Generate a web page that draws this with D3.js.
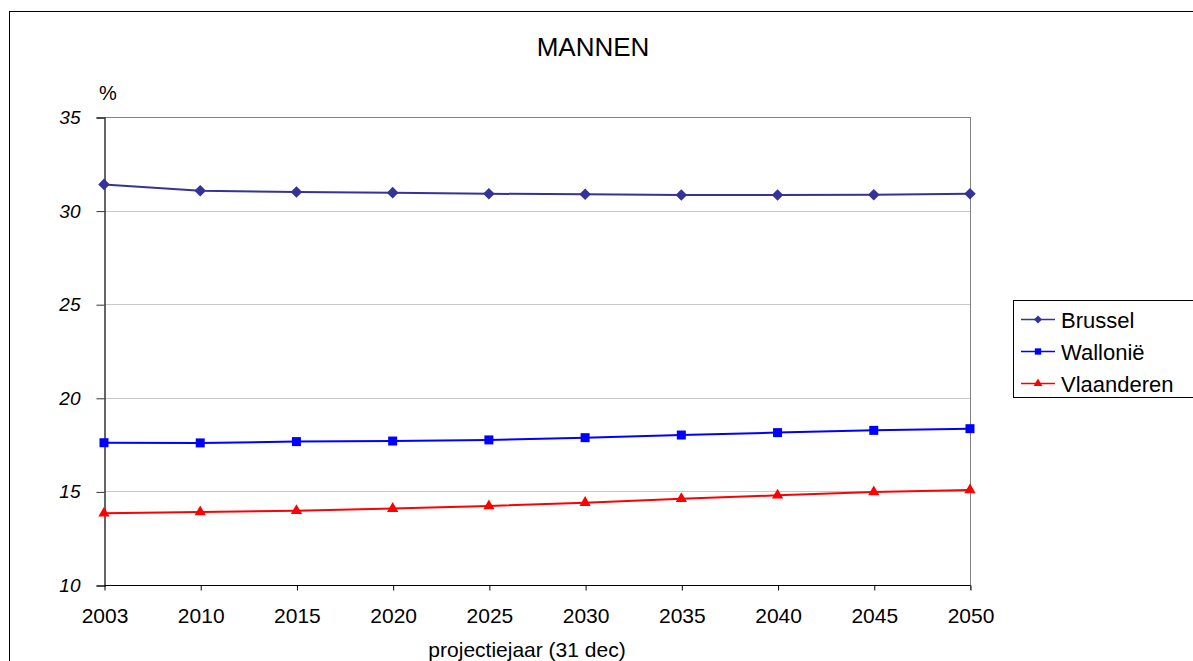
<!DOCTYPE html>
<html>
<head>
<meta charset="utf-8">
<script src="https://cdn.jsdelivr.net/npm/d3@7"></script>
<style>
  html, body { margin: 0; padding: 0; background: #fff; }
  svg { display: block; font-family: "Liberation Sans", Arial, sans-serif; }
</style>
</head>
<body>
<svg id="chart" width="1193" height="661"></svg>
<script>
// Projection years (category axis)
const years = ["2003", "2010", "2015", "2020", "2025", "2030", "2035", "2040", "2045", "2050"];

// Share (%) per region
const brussel    = [31.40, 31.06, 30.99, 30.96, 30.90, 30.87, 30.83, 30.83, 30.85, 30.90];
const wallonie   = [17.60, 17.59, 17.66, 17.69, 17.75, 17.87, 18.01, 18.14, 18.26, 18.35];
const vlaanderen = [13.83, 13.90, 13.97, 14.08, 14.22, 14.40, 14.61, 14.79, 14.97, 15.07];

const yTicks = [10, 15, 20, 25, 30, 35];

const seriesNames = ["Brussel", "Wallonië", "Vlaanderen"];
const seriesValues = [brussel, wallonie, vlaanderen];
const seriesColors = ["#333399", "#0000ff", "#ff0000"];
const diamond = d3.symbolDiamond2 || d3.symbolDiamond;
const seriesSymbols = [diamond, d3.symbolSquare, d3.symbolTriangle];
const symbolSizes = [85, 81, 55];
const legendSymbolSizes = [40, 40, 34];

const FONT = "'Liberation Sans', Arial, sans-serif";
const svg = d3.select("#chart");

// outer chart frame
svg.append("rect")
  .attr("x", 9.5).attr("y", 11.5)
  .attr("width", 1200).attr("height", 700)
  .attr("fill", "#fff").attr("stroke", "#000").attr("stroke-width", 1);

const plot = { left: 104, right: 970, top: 117, bottom: 585 };

const x = d3.scalePoint().domain(years).range([plot.left, plot.right]);
const y = d3.scaleLinear().domain([10, 35]).range([plot.bottom, plot.top]);

// gridlines
svg.append("g")
  .selectAll("line")
  .data(yTicks.filter(t => t > 10))
  .join("line")
  .attr("x1", plot.left).attr("x2", plot.right)
  .attr("y1", d => Math.round(y(d)) + 0.5).attr("y2", d => Math.round(y(d)) + 0.5)
  .attr("stroke", d => d === 35 ? "#808080" : "#c8c8c8")
  .attr("stroke-width", 1);

// right border of plot area
svg.append("line")
  .attr("x1", plot.right + 0.5).attr("x2", plot.right + 0.5)
  .attr("y1", plot.top).attr("y2", plot.bottom + 5)
  .attr("stroke", "#808080");

// y axis
const yAxis = d3.axisLeft(y).tickValues(yTicks).tickSize(8).tickPadding(16);
const gy = svg.append("g")
  .attr("transform", `translate(${plot.left + 0.5},0.5)`)
  .call(yAxis);
gy.attr("font-size", null).attr("font-family", null);
gy.select(".domain").attr("stroke", "#333").attr("stroke-width", 1.5);
gy.selectAll(".tick line").attr("stroke", "#333");
gy.selectAll(".tick text")
  .style("font-size", "19px").style("font-style", "italic").attr("fill", "#000")
  .style("font-family", FONT);

// x axis
const xAxis = d3.axisBottom(x).tickSize(5).tickPadding(18);
const gx = svg.append("g")
  .attr("transform", `translate(0.5,${plot.bottom + 0.5})`)
  .call(xAxis);
gx.attr("font-size", null).attr("font-family", null);
gx.select(".domain").attr("stroke", "#000").attr("d", `M${plot.left},0H${plot.right}`);
gx.selectAll(".tick line").attr("stroke", "#000");
gx.selectAll(".tick text")
  .style("font-size", "21px").attr("fill", "#000")
  .style("font-family", FONT);

// series lines and markers
const line = d3.line().x((d, i) => x(years[i])).y(d => y(d));
seriesValues.forEach((vals, s) => {
  svg.append("path")
    .datum(vals)
    .attr("d", line)
    .attr("fill", "none")
    .attr("stroke", seriesColors[s])
    .attr("stroke-width", 2);
  svg.append("g")
    .selectAll("path")
    .data(vals)
    .join("path")
    .attr("transform", (d, i) => `translate(${x(years[i])},${y(d)})`)
    .attr("d", d3.symbol().type(seriesSymbols[s]).size(symbolSizes[s]))
    .attr("fill", seriesColors[s]);
});

// title and axis titles
svg.append("text")
  .attr("x", 593).attr("y", 56)
  .attr("text-anchor", "middle").style("font-size", "26px")
  .text("MANNEN");

svg.append("text")
  .attr("x", 99).attr("y", 100)
  .style("font-size", "20px")
  .text("%");

svg.append("text")
  .attr("x", 527).attr("y", 657)
  .attr("text-anchor", "middle").style("font-size", "21px")
  .text("projectiejaar (31 dec)");

// legend
const legend = svg.append("g");
legend.append("rect")
  .attr("x", 1013.5).attr("y", 300.5)
  .attr("width", 200).attr("height", 97)
  .attr("fill", "#fff").attr("stroke", "#000");
seriesNames.forEach((name, s) => {
  const ly = 319.5 + s * 32;
  legend.append("line")
    .attr("x1", 1021).attr("x2", 1055)
    .attr("y1", ly).attr("y2", ly)
    .attr("stroke", seriesColors[s]).attr("stroke-width", 1.5);
  legend.append("path")
    .attr("transform", `translate(1038,${ly})`)
    .attr("d", d3.symbol().type(seriesSymbols[s]).size(legendSymbolSizes[s]))
    .attr("fill", seriesColors[s]);
  legend.append("text")
    .attr("x", 1061).attr("y", ly + 8)
    .style("font-size", "22px")
    .text(name);
});
</script>
</body>
</html>
